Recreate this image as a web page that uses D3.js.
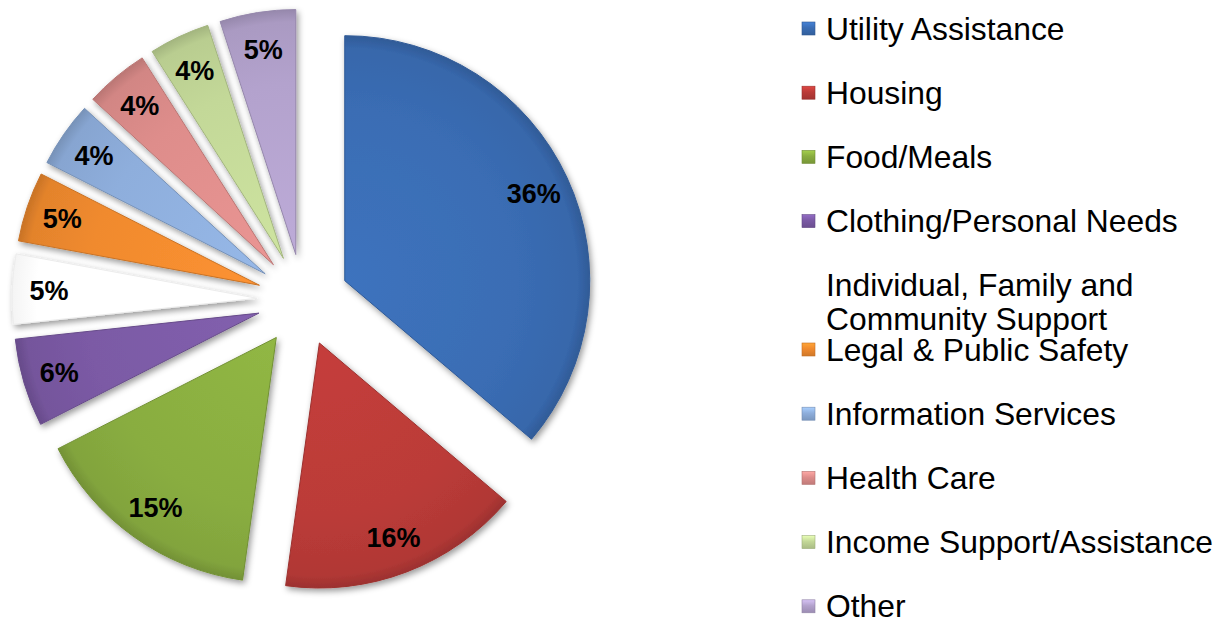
<!DOCTYPE html>
<html>
<head>
<meta charset="utf-8">
<script src="https://cdn.jsdelivr.net/npm/d3@7"></script>
<style>
  body { margin: 0; background: #fff; }
  svg { display: block; font-family: "Liberation Sans", Arial, sans-serif; }
</style>
</head>
<body>
<svg id="chart"></svg>
<script>
// data
let categories = ['Utility Assistance', 'Housing', 'Food/Meals', 'Clothing/Personal Needs',
  'Individual, Family and Community Support', 'Legal & Public Safety', 'Information Services',
  'Health Care', 'Income Support/Assistance', 'Other'];
let shares = [36.2, 16.0, 15.3, 5.8, 4.6, 4.6, 4.3, 4.2, 4.0, 5.0];
let colors = ['#3a6db4', '#bb3b38', '#89ad40', '#7b5aa5', '#ffffff', '#f08a2e',
  '#8eaedc', '#de8d8b', '#c3d898', '#b3a2cd'];
let legendLines = [['Utility Assistance'], ['Housing'], ['Food/Meals'], ['Clothing/Personal Needs'],
  ['Individual, Family and', 'Community Support'], ['Legal & Public Safety'], ['Information Services'],
  ['Health Care'], ['Income Support/Assistance'], ['Other']];

let width = 1226, height = 620;
let svg = d3.select('#chart').attr('width', width).attr('height', height);

let center = { x: 303, y: 300 };
let radius = 245;
let explode = 46;

let data = categories.map((c, i) => ({ name: c, value: shares[i], color: colors[i], lines: legendLines[i] }));
let total = d3.sum(shares);
let fmt = d3.format('.0%');

let pie = d3.pie().value(d => d.value).sort(null);
let arc = d3.arc().innerRadius(0).outerRadius(radius);
let arcs = pie(data);

let defs = svg.append('defs');

let shadow = defs.append('filter')
  .attr('id', 'shadow')
  .attr('x', '-20%').attr('y', '-20%')
  .attr('width', '140%').attr('height', '140%');
shadow.append('feDropShadow')
  .attr('dx', 2).attr('dy', 3)
  .attr('stdDeviation', 3)
  .attr('flood-color', '#000')
  .attr('flood-opacity', 0.4);

data.forEach((d, i) => {
  let c = d3.color(d.color);
  let g = defs.append('radialGradient')
    .attr('id', `grad${i}`)
    .attr('gradientUnits', 'userSpaceOnUse')
    .attr('cx', 0).attr('cy', 0).attr('r', radius);
  let stops = d.color === '#ffffff'
    ? [[0, '#ffffff'], [0.9, '#ffffff'], [1, '#f4f4f4']]
    : [[0, c.brighter(0.15)], [0.7, c], [0.95, c.darker(0.15)], [1, c.darker(0.5)]];
  stops.forEach(s => g.append('stop').attr('offset', s[0]).attr('stop-color', s[1]));

  let m = defs.append('linearGradient')
    .attr('id', `mark${i}`)
    .attr('x1', 0).attr('y1', 0).attr('x2', 0).attr('y2', 1);
  m.append('stop').attr('offset', 0).attr('stop-color', d.color === '#ffffff' ? '#fff' : c.brighter(0.5));
  m.append('stop').attr('offset', 0.45).attr('stop-color', d.color);
  m.append('stop').attr('offset', 1).attr('stop-color', d.color === '#ffffff' ? '#fff' : c.darker(0.4));
});

let slices = svg.append('g')
  .attr('transform', `translate(${center.x}, ${center.y})`)
  .selectAll('.slice')
  .data(arcs)
  .enter()
  .append('g')
  .attr('class', 'slice')
  .attr('transform', d => {
    let mid = (d.startAngle + d.endAngle) / 2;
    return `translate(${Math.sin(mid) * explode}, ${-Math.cos(mid) * explode})`;
  });

slices.append('path')
  .attr('d', arc)
  .attr('fill', (d, i) => `url(#grad${i})`)
  .attr('stroke', d => d.data.color === '#ffffff' ? '#ececec' : d3.color(d.data.color).darker(0.5))
  .attr('stroke-width', 1)
  .attr('stroke-linejoin', 'round')
  .attr('filter', 'url(#shadow)');

slices.append('text')
  .attr('x', d => Math.sin((d.startAngle + d.endAngle) / 2) * radius * 0.85)
  .attr('y', d => -Math.cos((d.startAngle + d.endAngle) / 2) * radius * 0.85)
  .attr('text-anchor', 'middle')
  .attr('dy', '0.36em')
  .attr('font-size', '27px')
  .attr('font-weight', 'bold')
  .attr('fill', '#000')
  .text(d => fmt(d.data.value / total));

// legend
let legend = svg.append('g')
  .attr('transform', 'translate(802, 28.5)');

let rowStep = 64.2;

let rows = legend.selectAll('.legend-row')
  .data(data)
  .enter()
  .append('g')
  .attr('class', 'legend-row')
  .attr('transform', (d, i) => `translate(0, ${i * rowStep})`);

rows.append('rect')
  .attr('x', 0)
  .attr('y', -6.5)
  .attr('width', 13)
  .attr('height', 13)
  .attr('fill', (d, i) => `url(#mark${i})`)
  .attr('stroke', d => d.color === '#ffffff' ? 'none' : d3.color(d.color).darker(0.6))
  .attr('stroke-width', 0.6);

rows.append('text')
  .attr('x', 24)
  .attr('font-size', '31.8px')
  .attr('fill', '#000')
  .selectAll('tspan')
  .data(d => d.lines)
  .enter()
  .append('tspan')
  .attr('x', 24)
  .attr('y', (d, j) => 11 + j * 34)
  .text(d => d);
</script>
</body>
</html>
